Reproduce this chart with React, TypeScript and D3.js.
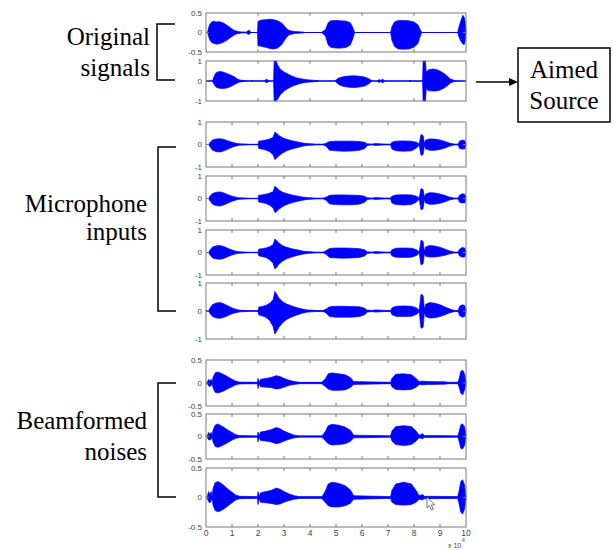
import React from 'react';
import * as d3 from 'd3';

type Pt = [number, number, number]; // [x (x10^4 samples), upper envelope, lower envelope]

const xTicksCoarse = [2, 4, 6, 8];
const xTicksFine = [1, 2, 3, 4, 5, 6, 7, 8, 9];
const xTickLabels = ['0', '1', '2', '3', '4', '5', '6', '7', '8', '9', '10'];
const yLabelsHalf = ['0.5', '0', '-0.5'];
const yLabelsOne = ['1', '0', '-1'];

const orig1: Pt[] = [
  [0, 0, 0], [0.06, 0, 0], [0.1, 0.12, -0.1], [0.15, 0.22, -0.2], [0.22, 0.27, -0.26], [0.3, 0.29, -0.28], [0.4, 0.27, -0.3], [0.5, 0.28, -0.29], [0.6, 0.26, -0.27], [0.7, 0.23, -0.24], [0.8, 0.19, -0.2], [0.9, 0.14, -0.15], [1.0, 0.09, -0.1], [1.1, 0.05, -0.06], [1.2, 0.03, -0.03], [1.35, 0.015, -0.015], [1.55, 0.01, -0.01], [1.62, 0.05, -0.05], [1.68, 0.05, -0.04], [1.72, 0, 0],
  [1.98, 0, 0], [2.0, 0.28, -0.35], [2.05, 0.3, -0.34], [2.15, 0.32, -0.36], [2.3, 0.33, -0.38], [2.45, 0.34, -0.41], [2.6, 0.33, -0.42], [2.75, 0.3, -0.4], [2.9, 0.25, -0.32], [3.0, 0.18, -0.22], [3.1, 0.1, -0.12], [3.2, 0.05, -0.06], [3.4, 0.025, -0.025], [3.75, 0.01, -0.01], [3.8, 0, 0],
  [4.45, 0, 0], [4.5, 0.03, -0.03], [4.6, 0.08, -0.1], [4.7, 0.25, -0.32], [4.8, 0.3, -0.38], [5.0, 0.31, -0.4], [5.2, 0.3, -0.4], [5.4, 0.29, -0.38], [5.55, 0.25, -0.32], [5.65, 0.12, -0.15], [5.72, 0, 0],
  [7.1, 0, 0], [7.15, 0.15, -0.2], [7.25, 0.27, -0.36], [7.4, 0.31, -0.42], [7.6, 0.31, -0.43], [7.8, 0.3, -0.42], [8.0, 0.27, -0.38], [8.15, 0.2, -0.28], [8.25, 0.06, -0.08], [8.3, 0, 0],
  [9.68, 0, 0], [9.72, 0.12, -0.1], [9.8, 0.3, -0.22], [9.88, 0.44, -0.3], [9.94, 0.38, -0.3], [9.98, 0.2, -0.15], [10, 0, 0],
];

const orig2: Pt[] = [
  [0, 0, 0], [0.25, 0, 0], [0.3, 0.2, -0.15], [0.38, 0.4, -0.3], [0.5, 0.48, -0.36], [0.65, 0.45, -0.38], [0.8, 0.38, -0.35], [0.95, 0.3, -0.28], [1.1, 0.2, -0.18], [1.2, 0.1, -0.1], [1.3, 0.05, -0.05], [1.5, 0.02, -0.02], [1.62, 0, 0], [1.72, 0, 0], [1.75, 0.05, -0.05], [1.78, 0, 0], [2.25, 0, 0], [2.3, 0.08, -0.08], [2.38, 0.06, -0.06], [2.42, 0, 0],
  [2.6, 0, 0], [2.62, 1.0, -1.0], [2.7, 1.0, -1.0], [2.76, 0.8, -0.9], [2.85, 0.6, -0.7], [3.0, 0.45, -0.5], [3.15, 0.35, -0.38], [3.3, 0.25, -0.27], [3.5, 0.15, -0.17], [3.7, 0.1, -0.1], [3.9, 0.06, -0.06], [4.1, 0.04, -0.04], [4.3, 0.02, -0.02], [4.35, 0, 0],
  [4.95, 0, 0], [5.0, 0.05, -0.05], [5.1, 0.15, -0.18], [5.3, 0.22, -0.28], [5.5, 0.25, -0.31], [5.7, 0.26, -0.33], [5.9, 0.24, -0.3], [6.1, 0.2, -0.25], [6.25, 0.12, -0.15], [6.35, 0.04, -0.04], [6.4, 0, 0], [6.6, 0, 0], [6.65, 0.08, -0.08], [6.72, 0.03, -0.03], [6.8, 0.09, -0.09], [6.88, 0, 0], [7.8, 0, 0], [7.85, 0.04, -0.04], [7.9, 0, 0],
  [8.33, 0, 0], [8.35, 1.0, -1.0], [8.44, 1.0, -1.0], [8.47, 0.45, -0.4], [8.55, 0.55, -0.48], [8.7, 0.6, -0.5], [8.85, 0.58, -0.5], [9.0, 0.5, -0.45], [9.15, 0.38, -0.36], [9.3, 0.22, -0.22], [9.4, 0.1, -0.1], [9.55, 0.03, -0.03], [9.65, 0, 0], [10, 0, 0],
];

const mic1: Pt[] = [
  [0, 0, 0], [0.1, 0, 0], [0.15, 0.08, -0.1], [0.25, 0.2, -0.25], [0.4, 0.25, -0.32], [0.55, 0.26, -0.33], [0.7, 0.22, -0.28], [0.85, 0.16, -0.2], [1.0, 0.1, -0.12], [1.15, 0.06, -0.07], [1.3, 0.03, -0.03], [1.55, 0.02, -0.02], [1.7, 0.01, -0.01], [2.0, 0.01, -0.01],
  [2.03, 0.15, -0.18], [2.15, 0.17, -0.2], [2.3, 0.2, -0.24], [2.45, 0.25, -0.32], [2.58, 0.32, -0.45], [2.65, 0.55, -0.67], [2.72, 0.5, -0.6], [2.8, 0.4, -0.5], [2.95, 0.3, -0.38], [3.1, 0.23, -0.28], [3.3, 0.17, -0.2], [3.5, 0.12, -0.14], [3.7, 0.07, -0.08], [3.9, 0.04, -0.04], [4.2, 0.02, -0.02], [4.5, 0.015, -0.015],
  [4.62, 0.06, -0.08], [4.75, 0.13, -0.25], [5.0, 0.15, -0.28], [5.3, 0.15, -0.3], [5.6, 0.15, -0.29], [5.9, 0.13, -0.26], [6.1, 0.1, -0.18], [6.2, 0.03, -0.04], [6.4, 0.02, -0.02], [6.5, 0.04, -0.04], [6.7, 0.03, -0.03], [6.85, 0.02, -0.02],
  [7.1, 0.02, -0.02], [7.15, 0.1, -0.2], [7.3, 0.15, -0.28], [7.6, 0.16, -0.3], [7.9, 0.15, -0.28], [8.1, 0.1, -0.15], [8.2, 0.03, -0.03], [8.27, 0.44, -0.48], [8.35, 0.4, -0.45], [8.4, 0.05, -0.05],
  [8.45, 0.2, -0.2], [8.6, 0.25, -0.26], [8.8, 0.24, -0.26], [9.0, 0.2, -0.22], [9.2, 0.13, -0.15], [9.35, 0.07, -0.08], [9.55, 0.02, -0.02], [9.7, 0.02, -0.02], [9.75, 0.15, -0.18], [9.85, 0.2, -0.2], [9.95, 0.18, -0.2], [10, 0, 0],
];

const mic2: Pt[] = [
  [0, 0, 0], [0.1, 0, 0], [0.15, 0.1, -0.1], [0.25, 0.22, -0.25], [0.4, 0.28, -0.32], [0.55, 0.29, -0.33], [0.7, 0.24, -0.28], [0.85, 0.17, -0.2], [1.0, 0.1, -0.12], [1.15, 0.06, -0.07], [1.3, 0.03, -0.03], [1.55, 0.02, -0.02], [1.7, 0.01, -0.01], [2.0, 0.01, -0.01],
  [2.03, 0.14, -0.16], [2.15, 0.16, -0.18], [2.3, 0.19, -0.22], [2.45, 0.24, -0.3], [2.58, 0.3, -0.42], [2.65, 0.54, -0.62], [2.72, 0.48, -0.58], [2.8, 0.38, -0.48], [2.95, 0.28, -0.36], [3.1, 0.22, -0.27], [3.3, 0.16, -0.19], [3.5, 0.11, -0.13], [3.7, 0.07, -0.08], [3.9, 0.04, -0.04], [4.2, 0.02, -0.02], [4.5, 0.015, -0.015],
  [4.62, 0.06, -0.08], [4.75, 0.14, -0.24], [5.0, 0.16, -0.27], [5.3, 0.16, -0.28], [5.6, 0.15, -0.28], [5.9, 0.14, -0.25], [6.1, 0.1, -0.17], [6.2, 0.03, -0.04], [6.4, 0.02, -0.02], [6.5, 0.04, -0.04], [6.7, 0.03, -0.03], [6.85, 0.02, -0.02],
  [7.1, 0.02, -0.02], [7.15, 0.1, -0.2], [7.3, 0.16, -0.27], [7.6, 0.17, -0.29], [7.9, 0.16, -0.27], [8.1, 0.1, -0.15], [8.2, 0.03, -0.03], [8.27, 0.44, -0.5], [8.35, 0.4, -0.45], [8.4, 0.05, -0.05],
  [8.45, 0.2, -0.2], [8.6, 0.26, -0.26], [8.8, 0.25, -0.25], [9.0, 0.2, -0.21], [9.2, 0.13, -0.14], [9.35, 0.07, -0.07], [9.55, 0.02, -0.02], [9.7, 0.02, -0.02], [9.75, 0.15, -0.17], [9.85, 0.21, -0.2], [9.95, 0.19, -0.2], [10, 0, 0],
];

const mic3: Pt[] = [
  [0, 0, 0], [0.1, 0, 0], [0.15, 0.1, -0.1], [0.25, 0.24, -0.24], [0.4, 0.3, -0.29], [0.55, 0.31, -0.3], [0.7, 0.26, -0.26], [0.85, 0.18, -0.18], [1.0, 0.11, -0.11], [1.15, 0.06, -0.06], [1.3, 0.03, -0.03], [1.55, 0.02, -0.02], [1.7, 0.01, -0.01], [2.0, 0.01, -0.01],
  [2.03, 0.15, -0.15], [2.15, 0.17, -0.18], [2.3, 0.2, -0.22], [2.45, 0.26, -0.32], [2.58, 0.35, -0.48], [2.65, 0.6, -0.73], [2.72, 0.52, -0.65], [2.8, 0.42, -0.52], [2.95, 0.3, -0.38], [3.1, 0.23, -0.28], [3.3, 0.17, -0.2], [3.5, 0.12, -0.13], [3.7, 0.07, -0.08], [3.9, 0.04, -0.04], [4.2, 0.02, -0.02], [4.5, 0.015, -0.015],
  [4.62, 0.08, -0.08], [4.75, 0.18, -0.22], [5.0, 0.2, -0.24], [5.3, 0.2, -0.25], [5.6, 0.19, -0.24], [5.9, 0.17, -0.22], [6.1, 0.12, -0.15], [6.2, 0.03, -0.04], [6.4, 0.02, -0.02], [6.5, 0.04, -0.04], [6.7, 0.03, -0.03], [6.85, 0.02, -0.02],
  [7.1, 0.02, -0.02], [7.15, 0.12, -0.15], [7.3, 0.19, -0.21], [7.6, 0.2, -0.22], [7.9, 0.19, -0.21], [8.1, 0.12, -0.13], [8.2, 0.03, -0.03], [8.27, 0.54, -0.55], [8.35, 0.5, -0.5], [8.4, 0.05, -0.05],
  [8.45, 0.25, -0.17], [8.6, 0.31, -0.2], [8.8, 0.29, -0.2], [9.0, 0.23, -0.17], [9.2, 0.15, -0.12], [9.35, 0.08, -0.07], [9.55, 0.02, -0.02], [9.7, 0.02, -0.02], [9.75, 0.15, -0.15], [9.85, 0.22, -0.2], [9.95, 0.2, -0.2], [10, 0, 0],
];

const mic4: Pt[] = [
  [0, 0, 0], [0.1, 0, 0], [0.15, 0.1, -0.08], [0.25, 0.23, -0.2], [0.4, 0.29, -0.25], [0.55, 0.3, -0.26], [0.7, 0.25, -0.22], [0.85, 0.18, -0.16], [1.0, 0.11, -0.1], [1.15, 0.06, -0.06], [1.3, 0.03, -0.03], [1.55, 0.02, -0.02], [1.7, 0.01, -0.01], [2.0, 0.01, -0.01],
  [2.03, 0.14, -0.14], [2.15, 0.16, -0.17], [2.3, 0.2, -0.22], [2.45, 0.28, -0.34], [2.58, 0.4, -0.55], [2.65, 0.7, -0.82], [2.72, 0.6, -0.72], [2.8, 0.46, -0.58], [2.95, 0.33, -0.42], [3.1, 0.25, -0.3], [3.3, 0.18, -0.21], [3.5, 0.12, -0.14], [3.7, 0.07, -0.08], [3.9, 0.04, -0.04], [4.2, 0.02, -0.02], [4.5, 0.015, -0.015],
  [4.62, 0.07, -0.07], [4.75, 0.15, -0.2], [5.0, 0.17, -0.22], [5.3, 0.17, -0.22], [5.6, 0.16, -0.22], [5.9, 0.15, -0.2], [6.1, 0.1, -0.13], [6.2, 0.03, -0.04], [6.4, 0.02, -0.02], [6.5, 0.04, -0.04], [6.7, 0.03, -0.03], [6.85, 0.02, -0.02],
  [7.1, 0.02, -0.02], [7.15, 0.11, -0.13], [7.3, 0.17, -0.19], [7.6, 0.18, -0.2], [7.9, 0.17, -0.19], [8.1, 0.11, -0.12], [8.2, 0.03, -0.03], [8.27, 0.6, -0.62], [8.35, 0.55, -0.58], [8.4, 0.05, -0.05],
  [8.45, 0.24, -0.2], [8.6, 0.3, -0.25], [8.8, 0.28, -0.24], [9.0, 0.22, -0.2], [9.2, 0.14, -0.13], [9.35, 0.08, -0.07], [9.55, 0.02, -0.02], [9.7, 0.02, -0.02], [9.75, 0.16, -0.16], [9.85, 0.22, -0.22], [9.95, 0.2, -0.2], [10, 0, 0],
];

const beam1: Pt[] = [
  [0, 0, 0], [0.05, 0.015, -0.015], [0.1, 0.08, -0.06], [0.15, 0.04, -0.08], [0.2, 0.08, -0.05], [0.24, 0.015, -0.015], [0.27, 0.12, -0.1], [0.35, 0.22, -0.2], [0.45, 0.24, -0.22], [0.55, 0.22, -0.2], [0.7, 0.18, -0.17], [0.85, 0.13, -0.12], [1.0, 0.08, -0.08], [1.15, 0.04, -0.04], [1.3, 0.02, -0.02], [1.98, 0.015, -0.015],
  [2.0, 0.1, -0.12], [2.05, 0.02, -0.02], [2.1, 0.08, -0.08], [2.3, 0.1, -0.09], [2.5, 0.12, -0.1], [2.7, 0.16, -0.13], [2.85, 0.14, -0.12], [3.0, 0.1, -0.09], [3.2, 0.06, -0.05], [3.4, 0.03, -0.03], [3.6, 0.015, -0.015], [4.45, 0.015, -0.015],
  [4.5, 0.04, -0.04], [4.6, 0.1, -0.08], [4.7, 0.2, -0.13], [4.85, 0.22, -0.16], [5.1, 0.2, -0.16], [5.35, 0.18, -0.15], [5.55, 0.12, -0.1], [5.68, 0.03, -0.03], [7.1, 0.015, -0.015],
  [7.15, 0.1, -0.08], [7.3, 0.19, -0.14], [7.6, 0.2, -0.15], [7.9, 0.18, -0.14], [8.08, 0.1, -0.09], [8.2, 0.03, -0.03], [8.3, 0.04, -0.04], [8.6, 0.03, -0.03], [9.2, 0.025, -0.025], [9.3, 0.015, -0.015], [9.68, 0.015, -0.015],
  [9.72, 0.06, -0.06], [9.8, 0.25, -0.22], [9.87, 0.28, -0.26], [9.94, 0.2, -0.16], [10, 0.02, -0.02],
];

const beam2: Pt[] = [
  [0, 0, 0], [0.05, 0.015, -0.015], [0.1, 0.09, -0.07], [0.15, 0.05, -0.08], [0.2, 0.09, -0.06], [0.24, 0.015, -0.015], [0.27, 0.14, -0.12], [0.35, 0.25, -0.22], [0.45, 0.28, -0.24], [0.55, 0.25, -0.22], [0.7, 0.2, -0.18], [0.85, 0.14, -0.13], [1.0, 0.09, -0.08], [1.15, 0.04, -0.04], [1.3, 0.02, -0.02], [1.98, 0.015, -0.015],
  [2.0, 0.1, -0.12], [2.05, 0.02, -0.02], [2.1, 0.1, -0.09], [2.3, 0.12, -0.1], [2.5, 0.15, -0.12], [2.7, 0.2, -0.16], [2.85, 0.17, -0.14], [3.0, 0.12, -0.1], [3.2, 0.07, -0.06], [3.4, 0.03, -0.03], [3.6, 0.015, -0.015], [4.45, 0.015, -0.015],
  [4.5, 0.04, -0.04], [4.6, 0.12, -0.1], [4.7, 0.24, -0.16], [4.85, 0.27, -0.19], [5.1, 0.25, -0.18], [5.35, 0.21, -0.16], [5.55, 0.14, -0.11], [5.68, 0.03, -0.03], [7.1, 0.015, -0.015],
  [7.15, 0.12, -0.1], [7.3, 0.22, -0.18], [7.6, 0.24, -0.2], [7.9, 0.22, -0.18], [8.08, 0.12, -0.1], [8.2, 0.03, -0.03], [8.33, 0.06, -0.05], [8.4, 0.02, -0.02], [8.6, 0.02, -0.02], [9.68, 0.015, -0.015],
  [9.72, 0.07, -0.07], [9.8, 0.26, -0.26], [9.87, 0.28, -0.28], [9.94, 0.22, -0.2], [10, 0.02, -0.02],
];

const beam3: Pt[] = [
  [0, 0, 0], [0.05, 0.015, -0.015], [0.1, 0.1, -0.07], [0.15, 0.05, -0.09], [0.2, 0.1, -0.06], [0.24, 0.015, -0.015], [0.27, 0.15, -0.13], [0.35, 0.25, -0.22], [0.45, 0.27, -0.24], [0.55, 0.25, -0.23], [0.7, 0.2, -0.19], [0.85, 0.14, -0.14], [1.0, 0.09, -0.09], [1.15, 0.04, -0.04], [1.3, 0.02, -0.02], [1.98, 0.015, -0.015],
  [2.0, 0.1, -0.12], [2.05, 0.02, -0.02], [2.1, 0.08, -0.08], [2.3, 0.1, -0.09], [2.5, 0.12, -0.1], [2.7, 0.16, -0.12], [2.85, 0.14, -0.11], [3.0, 0.1, -0.08], [3.2, 0.06, -0.05], [3.4, 0.03, -0.03], [3.6, 0.015, -0.015], [4.45, 0.015, -0.015],
  [4.5, 0.04, -0.04], [4.6, 0.12, -0.09], [4.7, 0.23, -0.14], [4.85, 0.26, -0.16], [5.1, 0.24, -0.16], [5.35, 0.2, -0.14], [5.55, 0.13, -0.1], [5.68, 0.03, -0.03], [7.1, 0.015, -0.015],
  [7.15, 0.12, -0.08], [7.3, 0.23, -0.12], [7.6, 0.26, -0.13], [7.9, 0.23, -0.12], [8.08, 0.12, -0.08], [8.2, 0.03, -0.03], [8.33, 0.05, -0.04], [8.4, 0.02, -0.02], [8.6, 0.02, -0.02], [9.68, 0.015, -0.015],
  [9.72, 0.08, -0.08], [9.8, 0.27, -0.25], [9.87, 0.3, -0.28], [9.94, 0.22, -0.2], [10, 0.02, -0.02],
];

const LEFT = 206;
const RIGHT = 466;

const panels = [
  { data: orig1, top: 13, bottom: 52, amp: 0.5, ticks: xTicksCoarse, labels: yLabelsHalf },
  { data: orig2, top: 61, bottom: 101, amp: 1, ticks: xTicksCoarse, labels: yLabelsOne },
  { data: mic1, top: 122, bottom: 167, amp: 1, ticks: xTicksFine, labels: yLabelsOne },
  { data: mic2, top: 176, bottom: 221, amp: 1, ticks: xTicksFine, labels: yLabelsOne },
  { data: mic3, top: 230, bottom: 275, amp: 1, ticks: xTicksFine, labels: yLabelsOne },
  { data: mic4, top: 283, bottom: 339, amp: 1, ticks: xTicksFine, labels: yLabelsOne },
  { data: beam1, top: 360, bottom: 406, amp: 0.5, ticks: xTicksFine, labels: yLabelsHalf },
  { data: beam2, top: 414, bottom: 459, amp: 0.5, ticks: xTicksFine, labels: yLabelsHalf },
  { data: beam3, top: 468, bottom: 527, amp: 0.5, ticks: xTicksFine, labels: yLabelsHalf },
];

const BLUE = '#0000ff';
const FRAME = '#7a7a7a';
const TICKTXT = '#444';
const SANS = '"Liberation Sans", Arial, Helvetica, sans-serif';
const SERIF = '"Liberation Serif", Tinos, "Times New Roman", Times, "DejaVu Serif", "Noto Serif", "FreeSerif", "Noto Serif CJK SC", "Noto Serif CJK JP", serif';

function Panel({ p, last }: { p: typeof panels[number]; last: boolean }) {
  const x = d3.scaleLinear().domain([0, 10]).range([LEFT, RIGHT]);
  const y = d3.scaleLinear().domain([-p.amp, p.amp]).range([p.bottom, p.top]);
  const area = d3.area<Pt>().x(d => x(d[0])).y0(d => y(d[2])).y1(d => y(d[1]));
  const yVals = [p.amp, 0, -p.amp];
  const tl = 3;
  return (
    <g>
      <line x1={x(0)} x2={x(10)} y1={y(0)} y2={y(0)} stroke={BLUE} strokeWidth={1} />
      <path d={area(p.data) || ''} fill={BLUE} stroke={BLUE} strokeWidth={0.7} strokeLinejoin="round" />
      <rect x={LEFT} y={p.top} width={RIGHT - LEFT} height={p.bottom - p.top} fill="none" stroke={FRAME} strokeWidth={1} />
      {p.ticks.map(t => (
        <g key={t}>
          <line x1={x(t)} x2={x(t)} y1={p.top} y2={p.top + tl} stroke={FRAME} strokeWidth={1} />
          <line x1={x(t)} x2={x(t)} y1={p.bottom} y2={p.bottom - tl} stroke={FRAME} strokeWidth={1} />
        </g>
      ))}
      <line x1={LEFT} x2={LEFT + tl} y1={y(0)} y2={y(0)} stroke={FRAME} strokeWidth={1} />
      <line x1={RIGHT} x2={RIGHT - tl} y1={y(0)} y2={y(0)} stroke={FRAME} strokeWidth={1} />
      {p.labels.map((lab, i) => (
        <text key={lab} x={LEFT - 4} y={y(yVals[i])} dy="0.35em" textAnchor="end" fontSize={8} fill={TICKTXT} style={{ fontFamily: SANS }}>{lab}</text>
      ))}
      {last && xTickLabels.map((lab, i) => (
        <text key={lab} x={x(i)} y={p.bottom + 9} textAnchor="middle" fontSize={8.5} fill={TICKTXT} style={{ fontFamily: SANS }}>{lab}</text>
      ))}
    </g>
  );
}

function Bracket({ x, y1, y2, arm }: { x: number; y1: number; y2: number; arm: number }) {
  return <path d={`M${arm},${y1} H${x} V${y2} H${arm}`} fill="none" stroke="#000" strokeWidth={1.5} />;
}

export default function App() {
  const serifStyle = { fontFamily: SERIF, fontSize: '25px' };
  return (
    <svg width={614} height={550} style={{ position: 'absolute', left: 0, top: 0, background: '#fff' }}>
      <rect x={0} y={0} width={614} height={550} fill="#fff" />
      {panels.map((p, i) => <Panel key={i} p={p} last={i === panels.length - 1} />)}
      <text x={448} y={548} fontSize={7} fill={TICKTXT} style={{ fontFamily: SANS }}>x 10</text>
      <text x={462} y={542} fontSize={5} fill={TICKTXT} style={{ fontFamily: SANS }}>4</text>

      <g fill="#000" textAnchor="end">
        <text x={150} y={45} style={serifStyle}>Original</text>
        <text x={150} y={76} style={serifStyle}>signals</text>
        <text x={147} y={212} style={serifStyle}>Microphone</text>
        <text x={147} y={240} style={serifStyle}>inputs</text>
        <text x={147} y={429} style={serifStyle}>Beamformed</text>
        <text x={147} y={460} style={serifStyle}>noises</text>
      </g>
      <Bracket x={157} y1={24} y2={80} arm={175} />
      <Bracket x={158} y1={147} y2={311} arm={176} />
      <Bracket x={158} y1={383} y2={497} arm={176} />

      <line x1={476} x2={511} y1={82} y2={82} stroke="#000" strokeWidth={1.3} />
      <path d="M518,82 L509,78 L509,86 Z" fill="#000" />
      <rect x={518} y={48} width={92} height={74} fill="#fff" stroke="#000" strokeWidth={1.5} />
      <g fill="#000" textAnchor="middle">
        <text x={564} y={78} style={serifStyle}>Aimed</text>
        <text x={564} y={109} style={serifStyle}>Source</text>
      </g>

      <path d="M427,497 L427,508 L429.5,505.5 L431.5,510 L433.3,509.2 L431.3,504.9 L434.8,504.9 Z" fill="#fff" stroke="#555" strokeWidth={0.8} />
    </svg>
  );
}
